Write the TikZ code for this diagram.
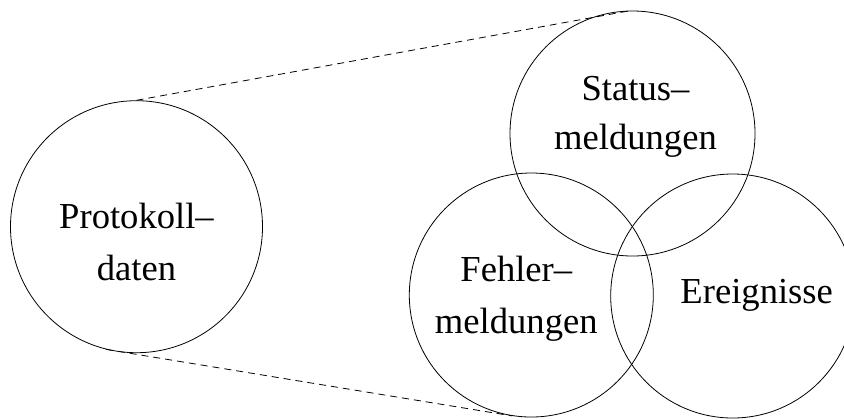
\documentclass[tikz,border=0pt]{standalone}
\usepackage{fontspec}
\setmainfont{Liberation Serif}
\usepackage{tikz}
\tikzstyle{menge} = [circle, draw=black, thin, inner sep=0pt]
\tikzstyle{schrift} = [align=center, inner sep=0pt, anchor=base, font=\fontsize{18.3}{26}\selectfont]
\tikzstyle{tangente} = [thin, dash pattern=on 3.5pt off 2.5pt]

\begin{document}
\begin{tikzpicture}[x=0.5pt, y=-0.5pt, node distance=100.7pt]
	\useasboundingbox (0,0) rectangle (844,419);
	\node (K1) [menge, minimum size=126pt] at (136.5,226.7) {};
	\node (K2) [menge, minimum size=122.5pt] at (632.5,133.5) {};
	\node (K3) [menge, minimum size=122pt] at (531.3,295) {};
	\node (K4) [menge, minimum size=122pt, right of = K3, yshift=-0.5pt] {};
	
	\node (T1) [schrift] at ([yshift=-26.65pt]K1) {Protokoll--\\daten};
	\node (T2) [schrift, font=\fontsize{18.3}{24.5}\selectfont] at ([xshift=1.5pt, yshift=-7.9pt]K2) {Status--\\meldungen};
	\node (T3) [schrift] at ([xshift=-7.5pt, yshift=-19.15pt]K3) {Fehler--\\meldungen};
	\node (T4) [schrift] at ([xshift=12pt, yshift=-3.65pt]K4) {Ereignisse};
	
				\draw [tangente] (K1.90) -- (K2.91);
				\draw [tangente] (K1.256) -- (K3.261);
\end{tikzpicture}
\end{document}
